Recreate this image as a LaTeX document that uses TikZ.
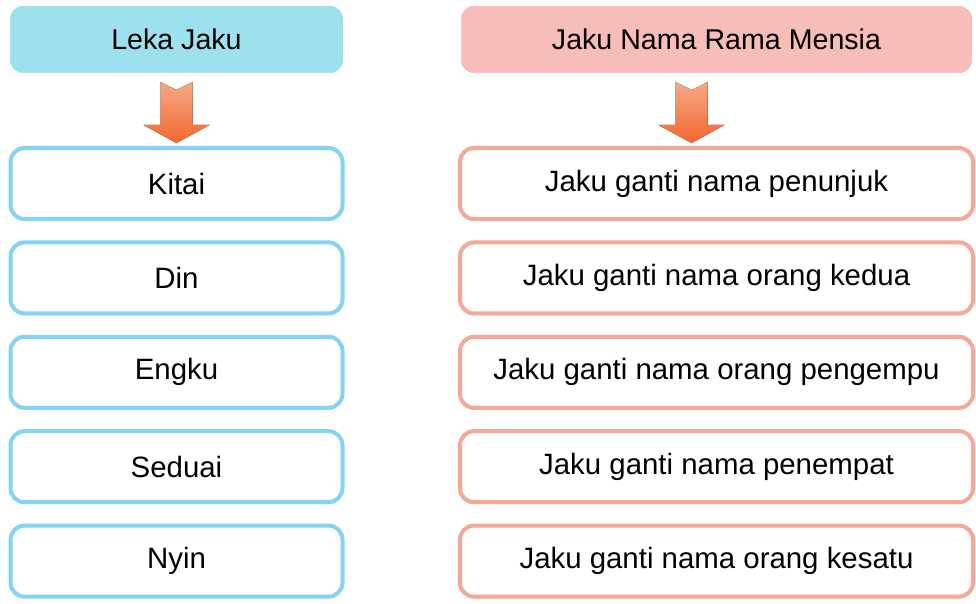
\documentclass[tikz,border=0pt]{standalone}
\usepackage{fontspec}
\setmainfont{Liberation Sans}
\usepackage{xcolor}
\usepackage{tikz}
\usetikzlibrary{shapes,arrows,positioning,calc,shadows,arrows.meta}

\definecolor{lekafill}{HTML}{9EE1EE}
\definecolor{lekaline}{HTML}{84D3F3}
\definecolor{namafill}{HTML}{F7BDB8}
\definecolor{namaline}{HTML}{F4A898}
\definecolor{arrowtop}{HTML}{F6A985}
\definecolor{arrowbot}{HTML}{F2672F}

% block arrow, #1 = top middle point
\newcommand{\blockarrow}[1]{%
  \fill[top color=arrowtop, middle color=arrowbot, bottom color=arrowbot]
    (#1) ++(-16,0) -- ++(16,8) -- ++(16,-8) -- ++(0,43) -- ++(17,0)
    -- ++(-33,18) -- ++(-33,-18) -- ++(17,0) -- cycle;}

\begin{document}
\begin{tikzpicture}[x=1pt, y=-1pt,
  node distance=19.4pt,
  base node/.style={rectangle, rounded corners=14pt, align=center,
    font=\fontsize{29.4}{35}\selectfont,
    drop shadow={shadow xshift=0pt, shadow yshift=-2pt, opacity=.18, fill=black!50}},
  head node/.style={base node, draw=white, line width=3pt, minimum height=70pt,
    font=\fontsize{28.6}{34}\selectfont},
  leka node/.style={base node, draw=lekaline, fill=white, line width=4pt,
    minimum width=332pt, minimum height=71pt},
  nama node/.style={base node, draw=namaline, fill=white, line width=4pt,
    minimum width=513pt, minimum height=71pt}]

  \useasboundingbox[fill=white] (0,0) rectangle (976,604);

  \node [head node, fill=lekafill, minimum width=336pt] (LekaJaku) at (176.5,39.5) {Leka Jaku};
  \node [head node, fill=namafill, minimum width=514pt] (NamaJaku) at (716.5,39.5) {Jaku Nama Rama Mensia};

  \node [leka node, below=70pt of LekaJaku] (Kitai) {Kitai};
  \node [leka node, below=of Kitai] (Din) {Din};
  \node [leka node, below=of Din] (Engku) {Engku};
  \node [leka node, below=of Engku] (Seduai) {Seduai};
  \node [leka node, below=of Seduai] (Nyin) {Nyin};

  \node [nama node, below=70pt of NamaJaku] (Penunjuk) {Jaku ganti nama penunjuk};
  \node [nama node, below=of Penunjuk] (Kedua) {Jaku ganti nama orang kedua};
  \node [nama node, below=of Kedua] (Pengempu) {Jaku ganti nama orang pengempu};
  \node [nama node, below=of Pengempu] (Penempat) {Jaku ganti nama penempat};
  \node [nama node, below=of Penempat] (Kesatu) {Jaku ganti nama orang kesatu};

  \blockarrow{$(LekaJaku.south)+(0,6)$}
  \blockarrow{$(NamaJaku.south)+(-25,6)$}
\end{tikzpicture}
\end{document}
